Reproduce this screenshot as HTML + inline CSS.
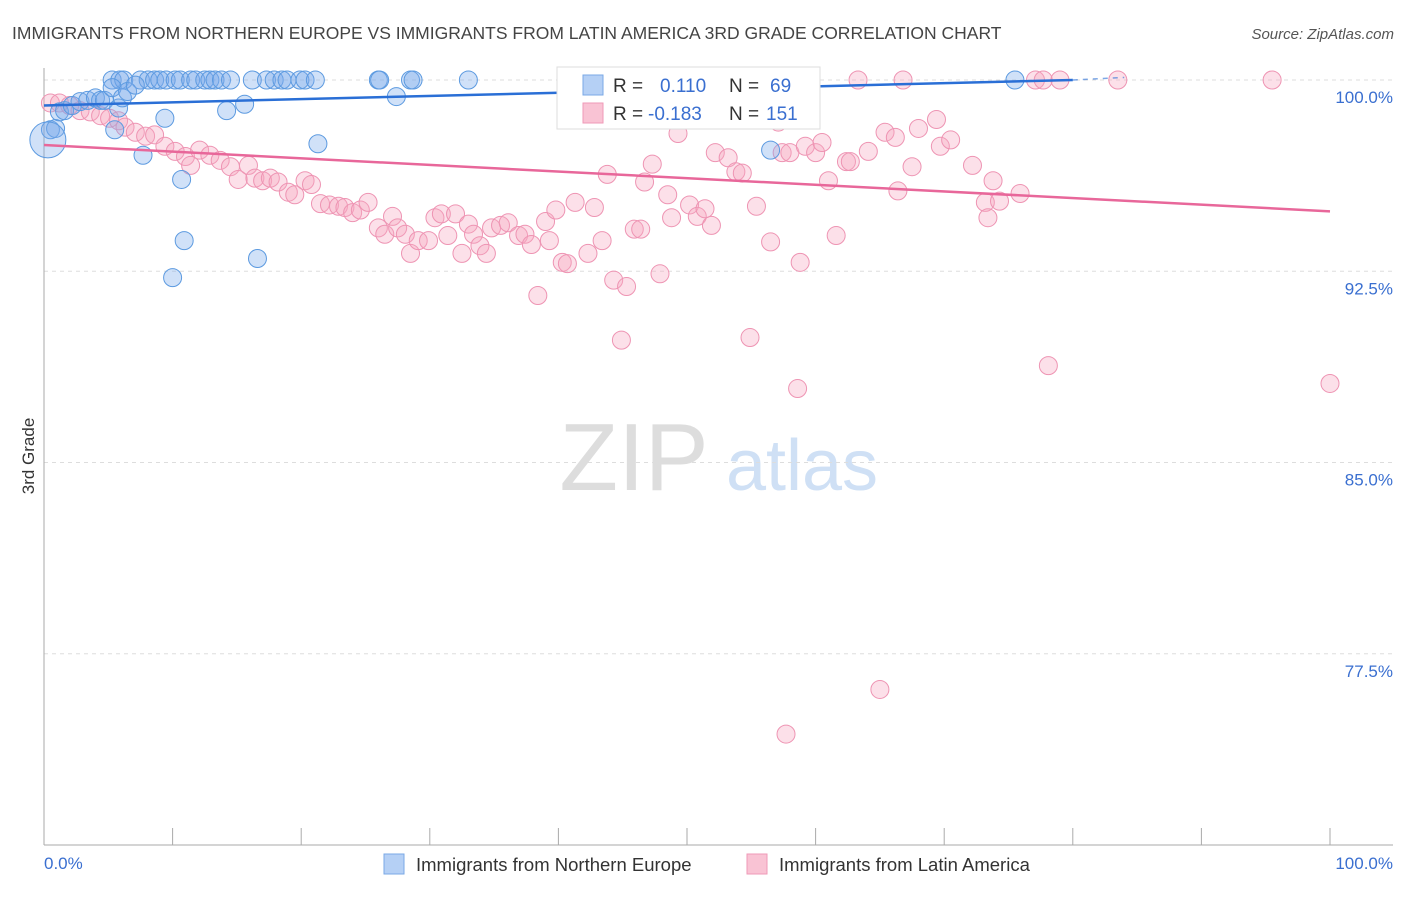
<!DOCTYPE html>
<html><head><meta charset="utf-8"><style>
body{margin:0;background:#fff;font-family:"Liberation Sans",sans-serif}
svg text{font-family:"Liberation Sans",sans-serif}
</style></head><body>
<svg id="chart" width="1406" height="892" viewBox="0 0 1406 892" xmlns="http://www.w3.org/2000/svg">
<text x="12" y="39" font-size="17.5" fill="#444">IMMIGRANTS FROM NORTHERN EUROPE VS IMMIGRANTS FROM LATIN AMERICA 3RD GRADE CORRELATION CHART</text>
<text x="1394" y="39" font-size="15" fill="#555" text-anchor="end" font-style="italic">Source: ZipAtlas.com</text>
<g>
<text x="634" y="490" font-size="96" fill="#ddd" text-anchor="middle" font-family="Liberation Serif" font-style="normal">ZIP</text>
<text x="802" y="490" font-size="72" fill="#cfe0f5" text-anchor="middle">atlas</text>
</g>
<g id="grid"></g>
<g id="axes"></g>
<g id="pts"></g>
<g id="trends"></g>
<text transform="translate(34,456) rotate(-90)" font-size="17" fill="#333" text-anchor="middle">3rd Grade</text>
<g>
<rect x="557" y="67" width="263" height="62" fill="#fff" stroke="#ddd"/>
<rect x="583" y="75" width="20" height="20" fill="#b5d0f5" stroke="#7aa8e6"/>
<rect x="583" y="103" width="20" height="20" fill="#f9c3d4" stroke="#ef9ab7"/>
<text x="613" y="92" font-size="19" fill="#333">R = </text><text x="660" y="92" font-size="19" fill="#3a6fd0">0.110</text>
<text x="729" y="92" font-size="19" fill="#333">N = </text><text x="770" y="92" font-size="19" fill="#3a6fd0">69</text>
<text x="613" y="120" font-size="19" fill="#333">R = </text><text x="648" y="120" font-size="19" fill="#3a6fd0">-0.183</text>
<text x="729" y="120" font-size="19" fill="#333">N = </text><text x="766" y="120" font-size="19" fill="#3a6fd0">151</text>
</g>
<g>
<rect x="384" y="854" width="20" height="20" fill="#b5d0f5" stroke="#7aa8e6"/>
<text x="416" y="871" font-size="18.5" fill="#333">Immigrants from Northern Europe</text>
<rect x="747" y="854" width="20" height="20" fill="#f9c3d4" stroke="#ef9ab7"/>
<text x="779" y="871" font-size="18.5" fill="#333">Immigrants from Latin America</text>
</g>
</svg>
<script>
const yTicks=[100,92.5,85,77.5];
const yTickLabels=["100.0%","92.5%","85.0%","77.5%"];
const xTickLabels=["0.0%","100.0%"];
const blueX=[5.3,5.9,6.2,7.5,8.1,8.6,9.0,9.5,10.2,10.6,11.4,11.8,12.5,12.9,13.3,13.8,14.5,16.2,17.3,17.9,18.5,18.9,19.9,20.3,21.1,26.0,26.1,28.5,28.7,33.0,54.9,75.5,48.5,
0.5,0.9,1.2,1.6,2.2,2.8,3.4,4.0,4.4,4.7,5.3,5.8,5.5,6.1,6.5,7.1,7.7,9.4,10.7,10.9,10.0,14.2,15.6,16.6,21.3,27.4,56.5];
const blueY=[100,100,100,100,100,100,100,100,100,100,100,100,100,100,100,100,100,100,100,100,100,100,100,100,100,100,100,100,100,100,100,100,100,
98.05,98.1,98.75,98.8,99.0,99.15,99.2,99.3,99.2,99.2,99.7,98.9,98.05,99.3,99.55,99.8,97.05,98.5,96.1,93.7,92.25,98.8,99.05,93.0,97.5,99.35,97.25];
const pinkX=[0.5,1.2,2.0,2.8,3.6,4.4,5.1,5.8,6.3,7.1,7.9,8.6,9.4,10.2,11.0,11.4,12.1,12.9,13.7,14.5,15.1,15.9,16.4,17.0,17.6,18.2,19.0,19.5,20.3,20.8,21.5,22.2,22.9,23.4,24.0,24.6,25.2,26.0,26.5,27.1,27.5,28.1,28.5,29.1,29.9,30.4,30.9,31.4,32.0,32.5,33.0,33.4,33.9,34.4,34.8,35.5,36.1,36.9,37.4,37.9,38.4,39.0,39.3,39.8,40.3,40.7,41.3,42.3,42.8,43.4,43.8,44.3,44.9,45.3,45.9,46.4,46.7,47.3,47.9,48.5,48.8,49.3,50.2,50.8,51.4,51.9,52.2,53.2,53.8,54.3,54.9,55.4,56.5,57.1,57.4,58.0,58.8,59.2,60.0,60.5,61.0,61.6,62.4,62.7,63.3,64.1,65.0,65.4,66.2,66.4,66.8,67.5,68.0,69.4,69.7,70.5,72.2,73.2,73.4,73.8,74.3,75.9,77.1,77.7,78.1,79.0,83.5,95.5,100,57.7,58.6,53.0];
const pinkY=[99.1,99.1,99.0,98.8,98.75,98.6,98.5,98.4,98.15,97.95,97.8,97.85,97.4,97.2,97.0,96.65,97.25,97.05,96.85,96.6,96.1,96.65,96.15,96.05,96.15,96.0,95.6,95.5,96.05,95.9,95.15,95.1,95.05,95.0,94.8,94.9,95.2,94.2,93.95,94.65,94.2,93.95,93.2,93.7,93.7,94.6,94.75,93.9,94.75,93.2,94.35,93.95,93.5,93.2,94.2,94.3,94.4,93.9,93.95,93.55,91.55,94.45,93.7,94.9,92.85,92.8,95.2,93.2,95.0,93.7,96.3,92.15,89.8,91.9,94.15,94.15,96.0,96.7,92.4,95.5,94.6,97.9,95.1,94.65,94.95,94.3,97.15,96.95,96.4,96.35,89.9,95.05,93.65,98.35,97.15,97.15,92.85,97.4,97.15,97.55,96.05,93.9,96.8,96.8,100,97.2,76.1,97.95,97.75,95.65,100,96.6,98.1,98.45,97.4,97.65,96.65,95.2,94.6,96.05,95.25,95.55,100,100,88.8,100,100,100,88.1,74.35,87.9,98.7];
const blueTrendX=[0,80],blueTrendY=[99.0,100];
const blueDashX=[80,84],blueDashY=[100,100.1];
const pinkTrendX=[0,100],pinkTrendY=[97.45,94.85];
const NS='http://www.w3.org/2000/svg';
const sx=v=>44+v*12.86, sy=v=>80+(100-v)*25.5;
function mk(tag,attrs,parent){const e=document.createElementNS(NS,tag);for(const k in attrs)e.setAttribute(k,attrs[k]);parent.appendChild(e);return e;}
const grid=document.getElementById('grid'),axes=document.getElementById('axes'),pts=document.getElementById('pts'),tr=document.getElementById('trends');
yTicks.forEach((t,i)=>{
 const l=mk('line',{x1:44,x2:1393,y1:sy(t),y2:sy(t),stroke:'#ddd','stroke-dasharray':'4,4'},grid);
 
 
 const tx=mk('text',{x:1393,y:sy(t)+23,'font-size':17,fill:'#3a6fd0','text-anchor':'end'},axes);
 tx.textContent=yTickLabels[i];
 
 
});
const ax=mk('line',{x1:44,x2:44,y1:68,y2:845,stroke:'#aaa'},axes);


const bx=mk('line',{x1:44,x2:1393,y1:845,y2:845,stroke:'#aaa'},axes);


for(let i=0;i<=10;i++){
 const t=mk('line',{x1:sx(i*10),x2:sx(i*10),y1:828,y2:845,stroke:'#aaa'},axes);
 
 
}
const xl0=mk('text',{x:44,y:869,'font-size':17,fill:'#3a6fd0'},axes);xl0.textContent=xTickLabels[0];


const xl1=mk('text',{x:1393,y:869,'font-size':17,fill:'#3a6fd0','text-anchor':'end'},axes);xl1.textContent=xTickLabels[1];


pinkX.forEach((x,i)=>{
 const c=mk('circle',{cx:sx(x),cy:sy(pinkY[i]),r:9,fill:'rgba(246,165,193,0.35)',stroke:'#ee94b3','stroke-width':1},pts);
 
 
});
blueX.forEach((x,i)=>{
 const c=mk('circle',{cx:sx(x),cy:sy(blueY[i]),r:9,fill:'rgba(120,170,235,0.35)',stroke:'#5c9ae0','stroke-width':1},pts);
 
 
});
const big=mk('circle',{cx:sx(0.3),cy:sy(97.65),r:18,fill:'rgba(120,170,235,0.35)',stroke:'#5c9ae0'},pts);


const bl=mk('line',{x1:sx(blueTrendX[0]),y1:sy(blueTrendY[0]),x2:sx(blueTrendX[1]),y2:sy(blueTrendY[1]),stroke:'#2a6fd6','stroke-width':2.5},tr);


const bd=mk('line',{x1:sx(blueDashX[0]),y1:sy(blueDashY[0]),x2:sx(blueDashX[1]),y2:sy(blueDashY[1]),stroke:'#2a6fd6','stroke-width':1.5,'stroke-dasharray':'5,5','opacity':0.6},tr);


const pl=mk('line',{x1:sx(pinkTrendX[0]),y1:sy(pinkTrendY[0]),x2:sx(pinkTrendX[1]),y2:sy(pinkTrendY[1]),stroke:'#e8679a','stroke-width':2.5},tr);


</script>
</body></html>
